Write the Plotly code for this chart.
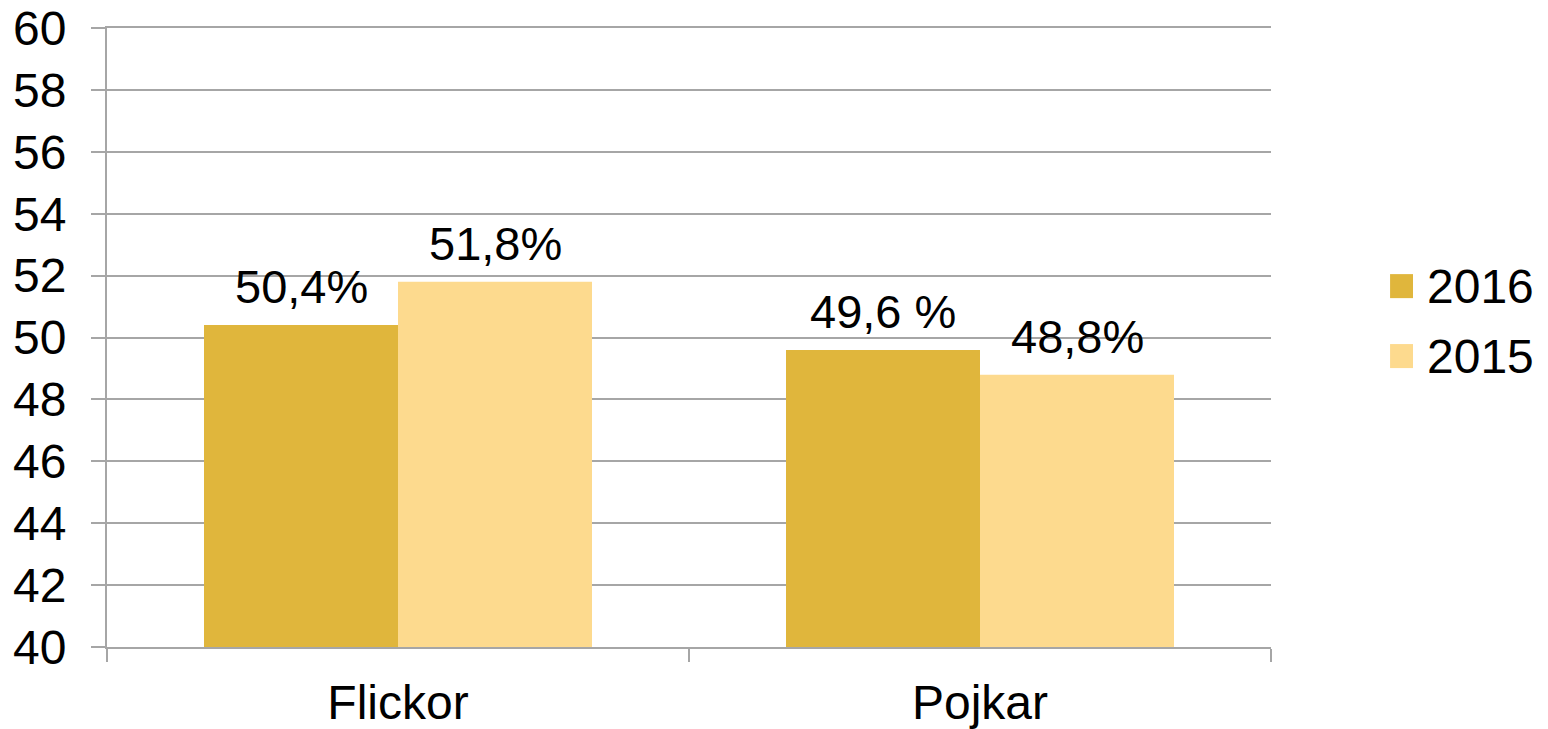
import plotly.graph_objects as go

categories = ["Flickor", "Pojkar"]
series_names = ["2016", "2015"]
values_2016 = [50.4, 49.6]
values_2015 = [51.8, 48.8]
labels_2016 = ["50,4%", "49,6 %"]
labels_2015 = ["51,8%", "48,8%"]
y_ticks = list(range(40, 61, 2))

colors = ["#E0B63C", "#FDDA8E"]
grid = "#A6A6A6"
font = "Liberation Sans, Arial, sans-serif"

fig = go.Figure()
for name, vals, col in zip(series_names, [values_2016, values_2015], colors):
    fig.add_trace(go.Bar(x=categories, y=vals, name=name, marker=dict(color=col, line=dict(width=0)),
                         showlegend=False, hoverinfo="skip"))

# data labels
annotations = []
offsets = [-1, 1]
for vals, labs, off in zip([values_2016, values_2015], [labels_2016, labels_2015], offsets):
    for i, (v, t) in enumerate(zip(vals, labs)):
        annotations.append(dict(x=i + off * 1 / 6, y=v, xref="x", yref="y", text=t, showarrow=False,
                                yanchor="bottom", xanchor="center", yshift=10,
                                font=dict(family=font, size=47, color="#000000")))

# manual legend
legend_y = [0.583, 0.470]
shapes = []
for name, col, ly in zip(series_names, colors, legend_y):
    shapes.append(dict(type="rect", xref="paper", yref="paper", x0=1.1023, x1=1.122,
                       y0=ly - 0.0194, y1=ly + 0.0194, fillcolor=col, line=dict(width=0)))
    annotations.append(dict(x=1.1323, y=ly, xref="paper", yref="paper", text=name, showarrow=False,
                            xanchor="left", yanchor="middle",
                            font=dict(family=font, size=48, color="#000000")))

fig.update_layout(
    width=1540, height=721,
    margin=dict(l=99, r=277, t=20, b=82),
    paper_bgcolor="white", plot_bgcolor="white",
    barmode="group", bargap=1 / 3, bargroupgap=0,
    annotations=annotations, shapes=shapes,
    font=dict(family=font, color="#000000"),
    xaxis=dict(type="category", tickson="boundaries", ticks="outside", ticklen=13, tickwidth=2,
               tickcolor=grid, showline=True, linecolor=grid, linewidth=2, showgrid=False,
               mirror=True,
               automargin=False, ticklabeloverflow="allow",
               tickfont=dict(family=font, size=48, color="#000000"), ticklabelstandoff=12),
    yaxis=dict(range=[40, 60], tickvals=y_ticks, ticktext=[str(t) for t in y_ticks],
               ticks="outside", ticklen=14, tickwidth=2, tickcolor=grid, automargin=False,
               ticklabeloverflow="allow",
               showline=True, linecolor=grid, linewidth=2, showgrid=True, gridcolor=grid, gridwidth=2,
               zeroline=False, tickfont=dict(family=font, size=48, color="#000000"),
               ticklabelstandoff=15),
)

fig.write_html("out.html")
